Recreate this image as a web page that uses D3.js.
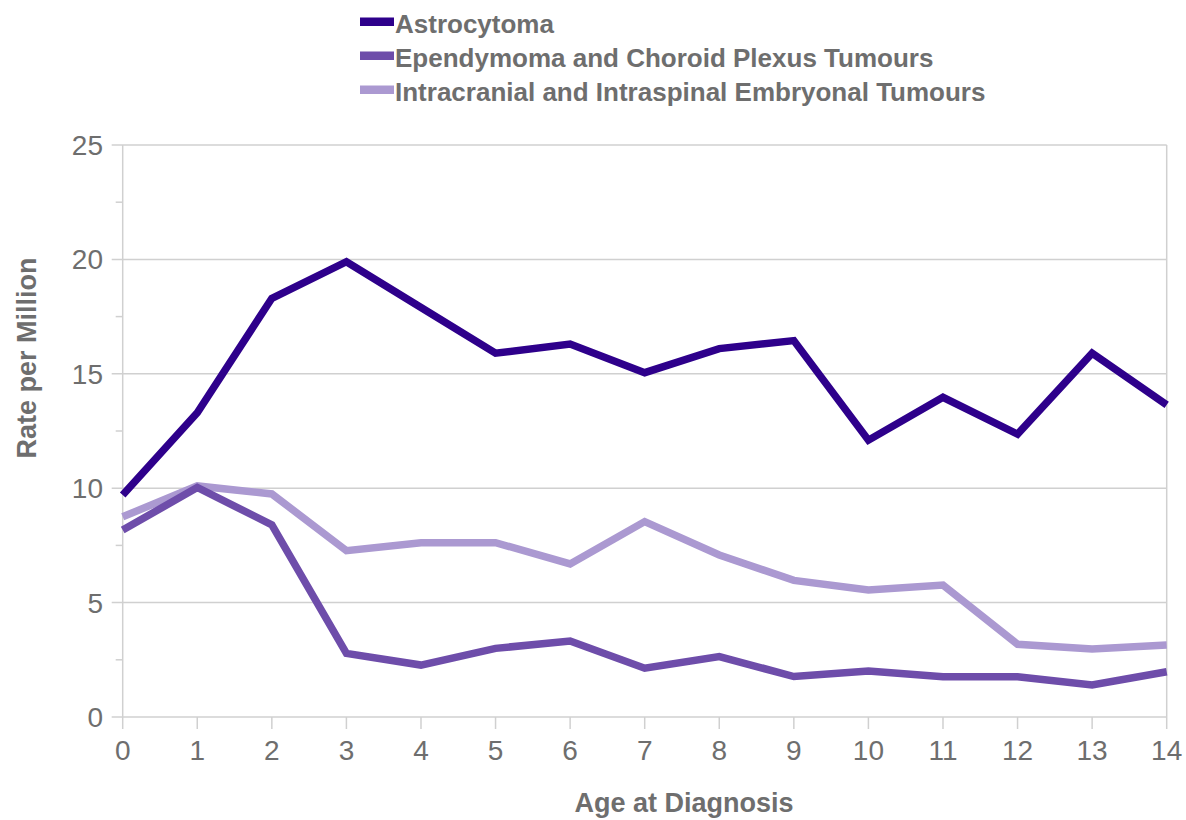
<!DOCTYPE html>
<html>
<head>
<meta charset="utf-8">
<script src="https://cdn.jsdelivr.net/npm/d3@7"></script>
<style>
  body { margin: 0; background: #fff; }
  svg text { font-family: "Liberation Sans", Arial, sans-serif; }
</style>
</head>
<body>
<svg id="chart" width="1186" height="820"></svg>
<script>
const ages = [0,1,2,3,4,5,6,7,8,9,10,11,12,13,14];
const seriesNames = ["Astrocytoma", "Ependymoma and Choroid Plexus Tumours", "Intracranial and Intraspinal Embryonal Tumours"];
const astrocytoma = [9.7, 13.3, 18.3, 19.9, 17.9, 15.9, 16.3, 15.05, 16.1, 16.45, 12.1, 13.97, 12.36, 15.9, 13.64];
const ependymoma  = [8.17, 10.03, 8.4, 2.78, 2.27, 3.0, 3.32, 2.13, 2.64, 1.77, 2.01, 1.76, 1.76, 1.40, 1.98];
const embryonal   = [8.75, 10.1, 9.75, 7.27, 7.62, 7.62, 6.69, 8.54, 7.08, 5.97, 5.55, 5.77, 3.18, 2.97, 3.15];
const yTicks = [0, 5, 10, 15, 20, 25];
const yMinorTicks = [2.5, 7.5, 12.5, 17.5, 22.5];
const colors = ["#2E008B", "#6E4DAA", "#AB99D1"];

(function () {
const svg = d3.select("#chart");
const pL = 122.7, pR = 1166.7, pT = 145, pB = 717;
const x = d3.scaleLinear().domain([0, 14]).range([pL, pR]);
const y = d3.scaleLinear().domain([0, 25]).range([pB, pT]);
const grid = "#d0d0d0";
const textCol = "#6e6e6e";

// gridlines
svg.append("g").selectAll("line").data(yTicks.filter(d => d > 0)).join("line")
  .attr("x1", pL - 11).attr("x2", pR)
  .attr("y1", d => y(d)).attr("y2", d => y(d))
  .attr("stroke", grid).attr("stroke-width", 1.5);
// minor ticks
svg.append("g").selectAll("line").data(yMinorTicks).join("line")
  .attr("x1", pL - 7).attr("x2", pL)
  .attr("y1", d => y(d)).attr("y2", d => y(d))
  .attr("stroke", grid).attr("stroke-width", 1.5);
// left axis + right border
svg.append("line").attr("x1", pL).attr("x2", pL).attr("y1", pT).attr("y2", pB)
  .attr("stroke", grid).attr("stroke-width", 1.5);
svg.append("line").attr("x1", pR).attr("x2", pR).attr("y1", pT).attr("y2", pB)
  .attr("stroke", grid).attr("stroke-width", 1.5);
// bottom axis
svg.append("line").attr("x1", pL - 11).attr("x2", pR).attr("y1", pB).attr("y2", pB)
  .attr("stroke", grid).attr("stroke-width", 1.5);
svg.append("g").selectAll("line").data(ages).join("line")
  .attr("x1", d => x(d)).attr("x2", d => x(d))
  .attr("y1", pB).attr("y2", pB + 12)
  .attr("stroke", grid).attr("stroke-width", 1.5);

// tick labels
svg.append("g").selectAll("text").data(yTicks).join("text")
  .attr("x", 103).attr("y", d => y(d) + 10)
  .attr("text-anchor", "end").attr("font-size", 28).attr("fill", textCol)
  .text(d => d);
svg.append("g").selectAll("text").data(ages).join("text")
  .attr("x", d => x(d)).attr("y", 760)
  .attr("text-anchor", "middle").attr("font-size", 28).attr("fill", textCol)
  .text(d => d);

// axis titles
svg.append("text").attr("transform", `translate(36, 358) rotate(-90)`)
  .attr("text-anchor", "middle")
  .attr("font-size", 27).attr("font-weight", "bold").attr("fill", textCol)
  .text("Rate per Million");
svg.append("text").attr("x", 684).attr("y", 812)
  .attr("text-anchor", "middle")
  .attr("font-size", 27).attr("font-weight", "bold").attr("fill", textCol)
  .text("Age at Diagnosis");

// lines
const allSeries = [astrocytoma, ependymoma, embryonal];
const line = d3.line().x((d, i) => x(ages[i])).y(d => y(d));
[2, 1, 0].forEach(k => {
  svg.append("path").datum(allSeries[k])
    .attr("d", line).attr("fill", "none")
    .attr("stroke", colors[k]).attr("stroke-width", 7.5)
    .attr("stroke-linejoin", "miter");
});

// legend
const lg = svg.append("g");
seriesNames.forEach((name, i) => {
  lg.append("rect").attr("x", 360).attr("y", 17.5 + i * 34).attr("width", 34).attr("height", 8.5).attr("fill", colors[i]);
  lg.append("text").attr("x", 395).attr("y", 33 + i * 34)
    .attr("font-size", 26).attr("font-weight", "bold").attr("fill", textCol).text(name);
});
})();
</script>
</body>
</html>
